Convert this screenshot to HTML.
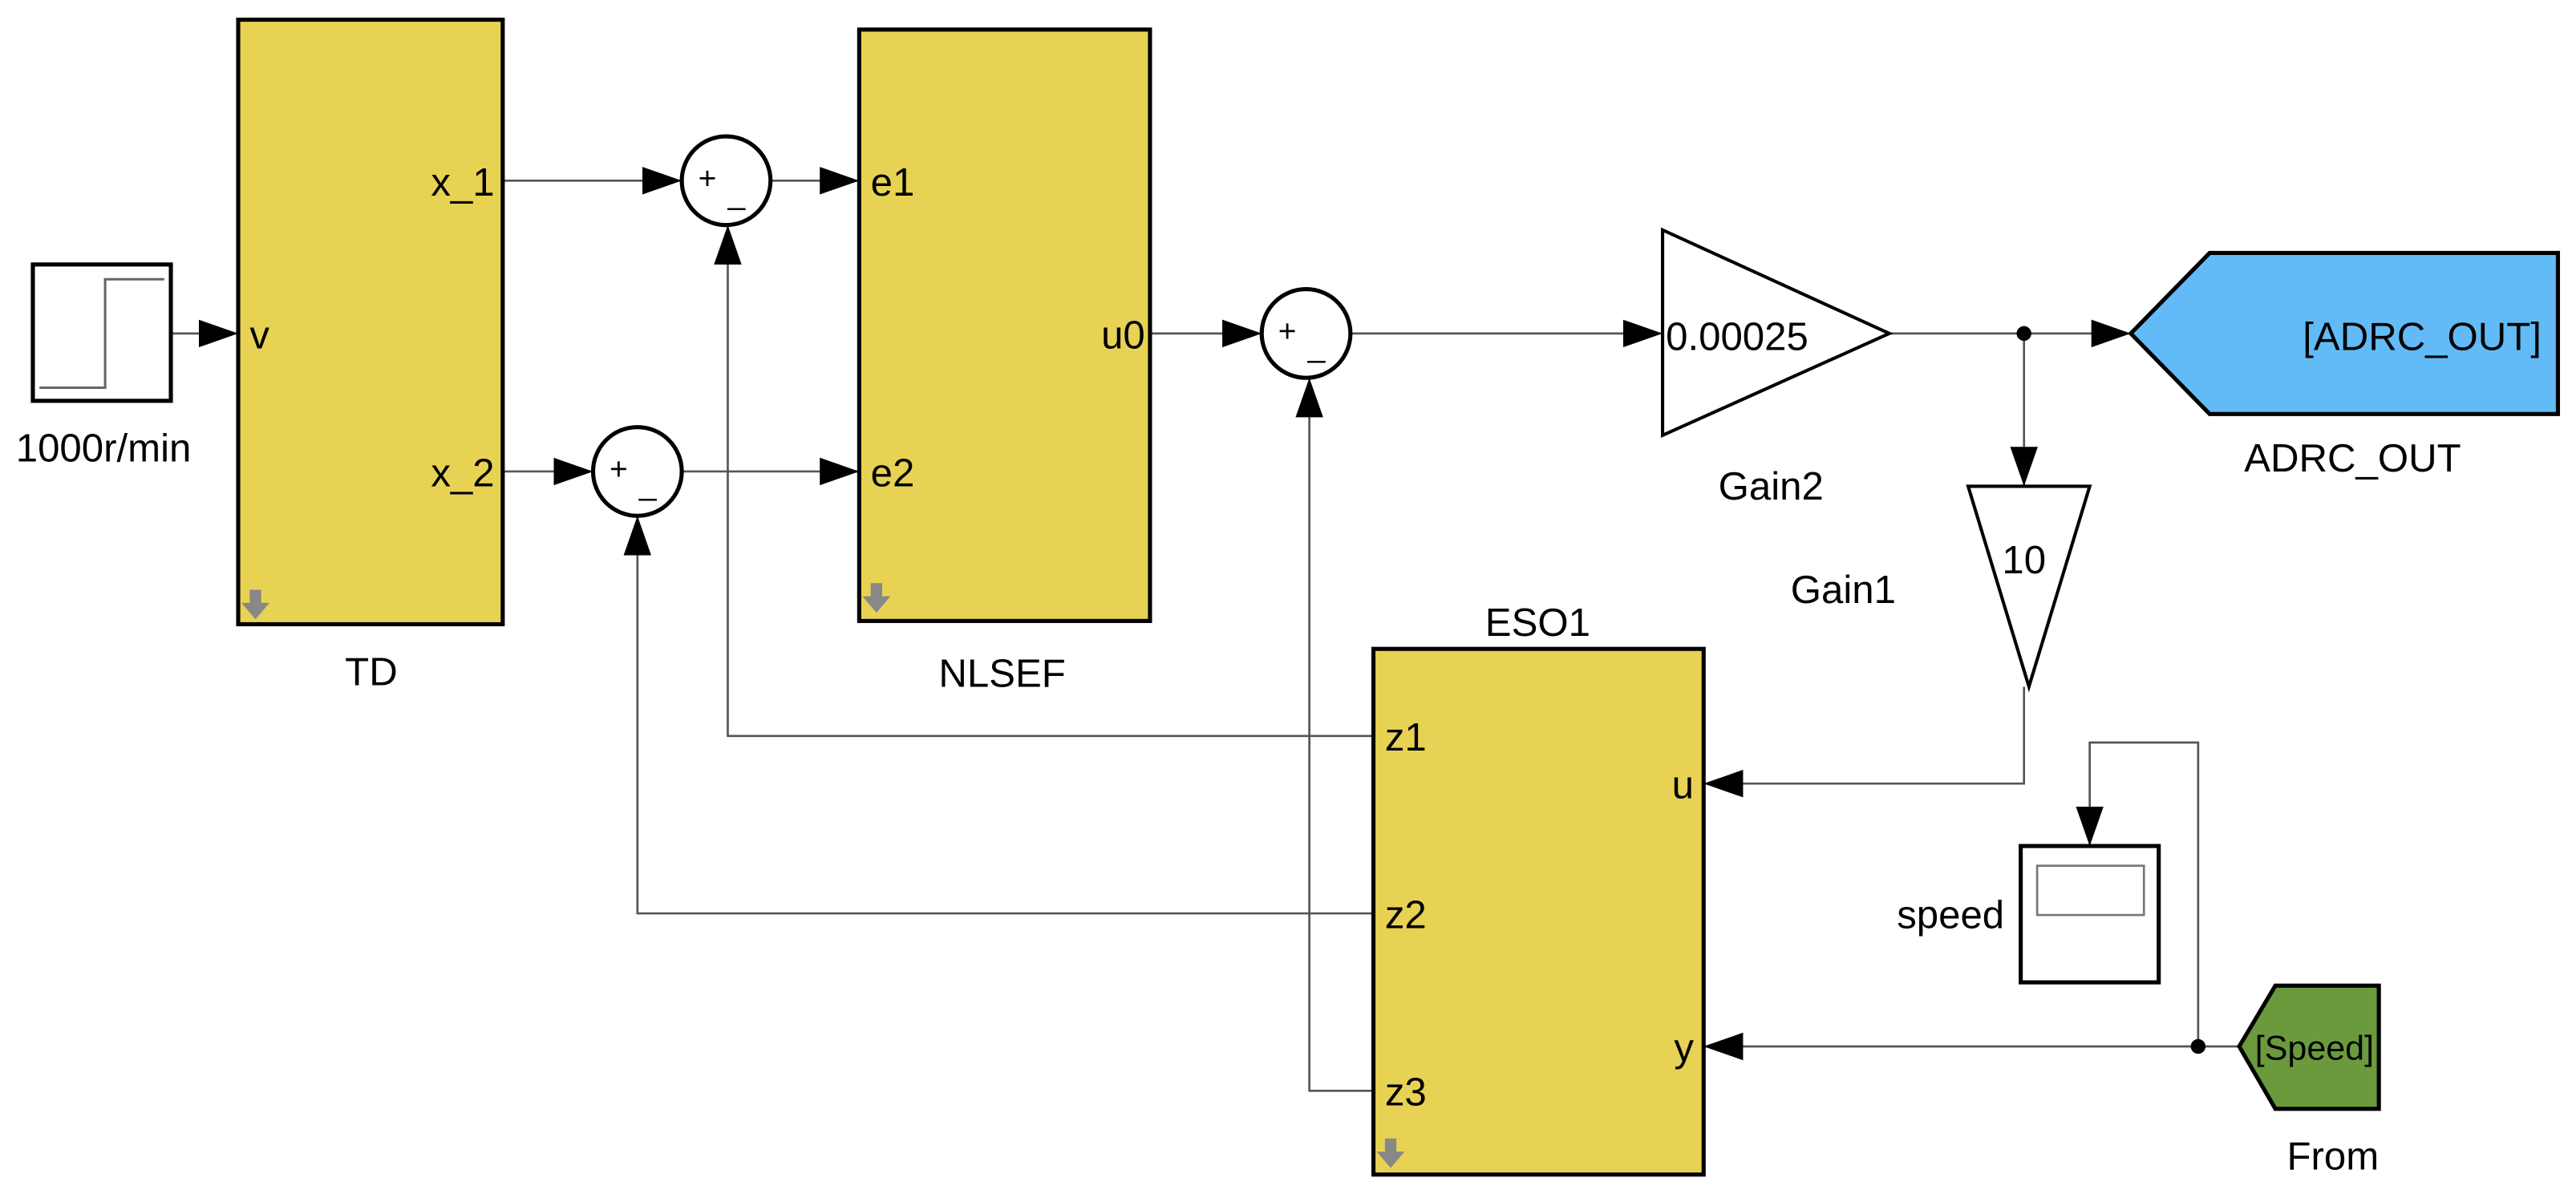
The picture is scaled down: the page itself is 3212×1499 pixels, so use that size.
<!DOCTYPE html>
<html><head><meta charset="utf-8"><style>html,body{margin:0;padding:0;background:#fff}svg{display:block}text{font-family:"Liberation Sans",Arial,sans-serif;fill:#000}</style></head>
<body>
<svg width="3212" height="1499" viewBox="0 0 1568 731.7" preserveAspectRatio="none" xmlns="http://www.w3.org/2000/svg">
<defs>
<marker id="b" viewBox="0 0 10 10" refX="10" refY="5" markerWidth="24" markerHeight="24" markerUnits="userSpaceOnUse" orient="auto"><path d="M0,1.5L10,5L0,8.5z" fill="#000"/></marker>
</defs>
<g fill="none" stroke="#555" stroke-width="1.3">
<path d="M104,203H145" marker-end="url(#b)"/>
<path d="M306,110H415" marker-end="url(#b)"/>
<path d="M469,110H523" marker-end="url(#b)"/>
<path d="M306,287H361" marker-end="url(#b)"/>
<path d="M415,287H523" marker-end="url(#b)"/>
<path d="M700,203H768" marker-end="url(#b)"/>
<path d="M822,203H1012" marker-end="url(#b)"/>
<path d="M1150,203H1297" marker-end="url(#b)"/>
<path d="M1232,203V296" marker-end="url(#b)"/>
<path d="M1232,418V477H1037" marker-end="url(#b)"/>
<path d="M836,448H443V137" marker-end="url(#b)"/>
<path d="M836,556H388V314" marker-end="url(#b)"/>
<path d="M836,664H797V230" marker-end="url(#b)"/>
<path d="M1363,637H1037" marker-end="url(#b)"/>
<path d="M1338,637V452H1272V515" marker-end="url(#b)"/>
</g>
<circle cx="1232" cy="203" r="4.5" fill="#000"/>
<circle cx="1338" cy="637" r="4.5" fill="#000"/>
<g stroke="#000" stroke-width="2.5">
<rect x="20" y="161" width="84" height="83" fill="#fff"/>
<rect x="145" y="12" width="161" height="368" fill="#e8d253"/>
<rect x="523" y="18" width="177" height="360" fill="#e8d253"/>
<rect x="836" y="395" width="201" height="320" fill="#e8d253"/>
<circle cx="442" cy="110" r="27" fill="#fff"/>
<circle cx="388" cy="287" r="27" fill="#fff"/>
<circle cx="795" cy="203" r="27" fill="#fff"/>
<polygon points="1012,140 1012,265 1150,203" fill="#fff" stroke-width="2"/>
<polygon points="1198,296 1272,296 1235,418" fill="#fff" stroke-width="2"/>
<polygon points="1297,203 1345,154 1557,154 1557,252 1345,252" fill="#62bbf6"/>
<polygon points="1363,637 1385,600 1448,600 1448,675 1385,675" fill="#6a9a3c"/>
<rect x="1230" y="515" width="84" height="83" fill="#fff"/>
</g>
<rect x="1240" y="527" width="65" height="30" fill="#fff" stroke="#777" stroke-width="1.3"/>
<path d="M24,236H64V170H100" fill="none" stroke="#666" stroke-width="1.5"/>
<g fill="#888"><path d="M152,359h7v8h5l-8.5,10l-8.5,-10h5z"/><path d="M530,355h7v8h5l-8.5,10l-8.5,-10h5z"/><path d="M843,693h7v8h5l-8.5,10l-8.5,-10h5z"/></g>
<g font-size="24">
<text x="63" y="281" text-anchor="middle">1000r/min</text>
<text x="152" y="212">v</text>
<text x="301" y="119" text-anchor="end">x_1</text>
<text x="301" y="296" text-anchor="end">x_2</text>
<text x="226" y="417" text-anchor="middle">TD</text>
<text x="530" y="119">e1</text>
<text x="530" y="296">e2</text>
<text x="697" y="212" text-anchor="end">u0</text>
<text x="610" y="418" text-anchor="middle">NLSEF</text>
<text x="1014" y="213">0.00025</text>
<text x="1078" y="304" text-anchor="middle">Gain2</text>
<text x="1547" y="213" text-anchor="end">[ADRC_OUT]</text>
<text x="1432" y="287" text-anchor="middle">ADRC_OUT</text>
<text x="1232" y="349" text-anchor="middle">10</text>
<text x="1122" y="367" text-anchor="middle">Gain1</text>
<text x="936" y="387" text-anchor="middle">ESO1</text>
<text x="843" y="457">z1</text>
<text x="843" y="565">z2</text>
<text x="843" y="673">z3</text>
<text x="1031" y="486" text-anchor="end">u</text>
<text x="1031" y="646" text-anchor="end">y</text>
<text x="1220" y="565" text-anchor="end">speed</text>
<text x="1445" y="645" text-anchor="end" font-size="21">[Speed]</text>
<text x="1420" y="712" text-anchor="middle">From</text>
</g>
<g font-size="19" fill="#000">
<text x="425" y="115">+</text><text x="443" y="124">_</text>
<text x="371" y="292">+</text><text x="389" y="301">_</text>
<text x="778" y="208">+</text><text x="796" y="217">_</text>
</g>
</svg>
</body></html>
